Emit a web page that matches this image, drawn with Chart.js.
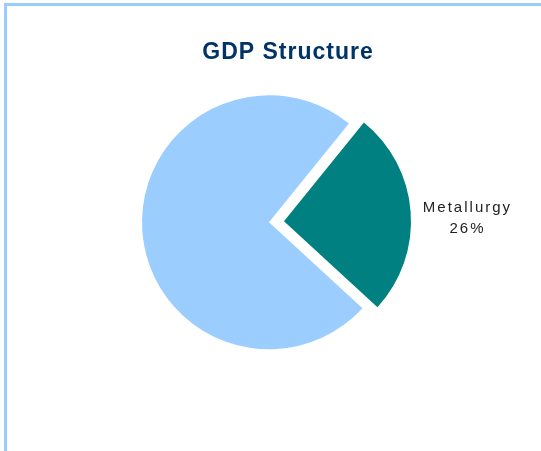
<!DOCTYPE html>
<html>
<head>
<meta charset="utf-8">
<title>GDP Structure</title>
<script src="https://cdn.jsdelivr.net/npm/chart.js@4/dist/chart.umd.min.js"></script>
<style>
    html, body {
        margin: 0;
        padding: 0;
        background: #ffffff;
        overflow: hidden;
    }
    #frame {
        position: absolute;
        left: 4px;
        top: 3px;
        width: 560px;
        height: 470px;
        border-top: 3px solid #99ccff;
        border-left: 3px solid #99ccff;
    }
    #wrap {
        position: absolute;
        left: 0;
        top: 0;
        width: 541px;
        height: 451px;
    }
</style>
</head>
<body>
<div id="frame"></div>
<div id="wrap"><canvas id="gdpChart"></canvas></div>
<script>
// GDP shares, percent
const sectors = ['Metallurgy', 'Other sectors'];
const shares = [26, 74];
const showLabel = [true, false];
const sliceColors = ['#008080', '#9ccdff'];

// Draws "name / value%" next to the slices that carry a label
const sliceLabels = {
    id: 'sliceLabels',
    afterDatasetsDraw(chart) {
        const ctx = chart.ctx;
        const meta = chart.getDatasetMeta(0);
        meta.data.forEach((arc, i) => {
            if (!showLabel[i]) return;
            const mid = (arc.startAngle + arc.endAngle) / 2;
            const dist = arc.outerRadius + 72;
            const x = arc.x + Math.cos(mid) * dist;
            const y = arc.y + Math.sin(mid) * dist;
            ctx.save();
            ctx.letterSpacing = '2px';
            ctx.font = '15px Arial, "Liberation Sans", sans-serif';
            ctx.fillStyle = '#222222';
            ctx.textAlign = 'center';
            ctx.textBaseline = 'middle';
            ctx.fillText(chart.data.labels[i], x, y);
            ctx.fillText(chart.data.datasets[0].data[i] + '%', x, y + 21);
            ctx.restore();
        });
    }
};

// Title sits a little right of the pie centre, with wider tracking
const titleTweaks = {
    id: 'titleTweaks',
    afterLayout(chart) {
        chart.titleBlock.left += 19;
        chart.titleBlock.right += 19;
    },
    beforeDraw(chart) {
        chart.ctx.letterSpacing = '1px';
    },
    afterDraw(chart) {
        chart.ctx.letterSpacing = '0px';
    }
};

const ctx = document.getElementById('gdpChart').getContext('2d');
new Chart(ctx, {
    type: 'pie',
    data: {
        labels: sectors,
        datasets: [{
            data: shares,
            backgroundColor: sliceColors,
            borderWidth: 0,
            // arc offset is drawn at a quarter of this value
            offset: [60, 0],
            hoverOffset: 0,
            clip: false
        }]
    },
    options: {
        responsive: true,
        maintainAspectRatio: false,
        animation: false,
        rotation: 39,
        radius: 127,
        layout: {
            padding: { top: 0, left: 0, right: 3, bottom: 81 }
        },
        plugins: {
            legend: { display: false },
            tooltip: { enabled: false },
            title: {
                display: true,
                text: 'GDP Structure',
                align: 'center',
                color: '#003366',
                font: {
                    family: 'Arial, "Liberation Sans", sans-serif',
                    size: 23,
                    weight: 'bold'
                },
                padding: { top: 39, bottom: 8 }
            }
        }
    },
    plugins: [titleTweaks, sliceLabels]
});
</script>
</body>
</html>
